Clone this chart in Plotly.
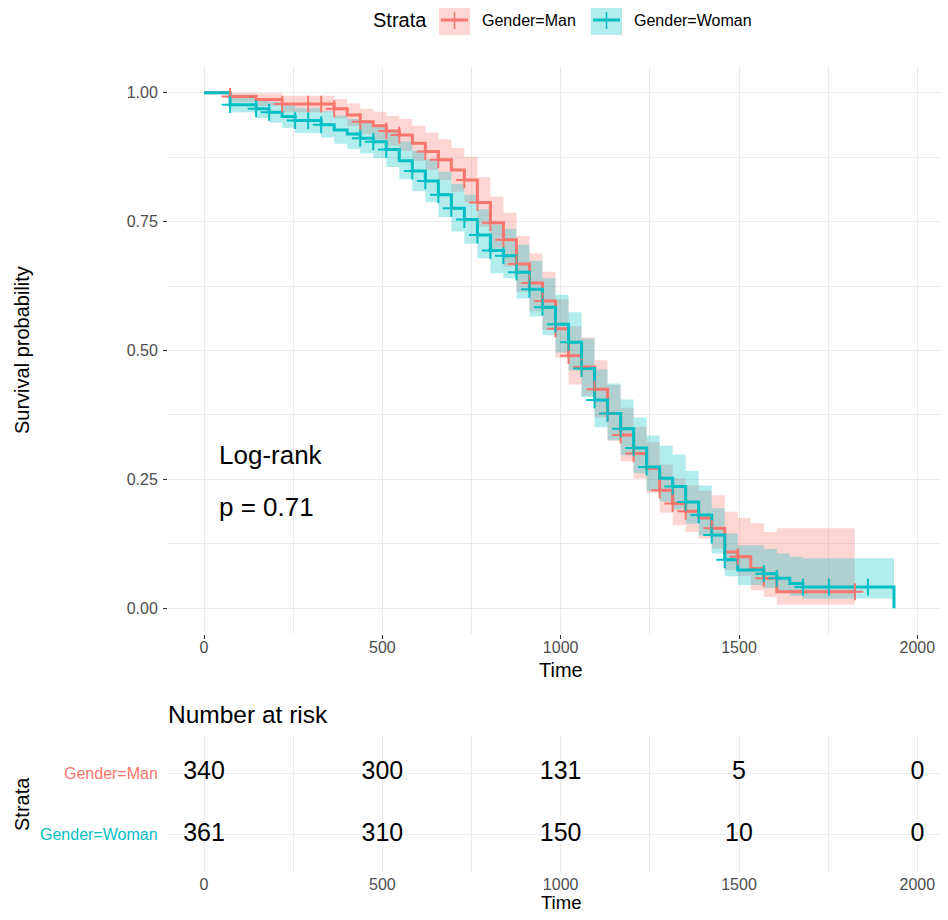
import bisect
import plotly.graph_objects as go

# ---------------- data ----------------
man_times = [0, 73, 146, 219, 365, 401.5, 438, 474.5, 511, 547.5, 584, 620.5, 657, 693.5,
             730, 766.5, 803, 839.5, 876, 912.5, 949, 985.5, 1022, 1058.5, 1095, 1131.5,
             1168, 1204.5, 1241, 1277.5, 1314, 1350.5, 1387, 1423.5, 1460, 1496.5, 1533,
             1569.5, 1606, 1825]
man_surv = [1, 0.993, 0.987, 0.978, 0.969, 0.957, 0.944, 0.936, 0.926, 0.918, 0.902, 0.886,
            0.870, 0.850, 0.831, 0.787, 0.748, 0.715, 0.668, 0.631, 0.596, 0.542, 0.490,
            0.468, 0.425, 0.378, 0.336, 0.300, 0.271, 0.229, 0.203, 0.188, 0.175, 0.155,
            0.109, 0.100, 0.077, 0.058, 0.032, 0.032]
man_lower = [1, 0.982, 0.975, 0.962, 0.950, 0.935, 0.920, 0.909, 0.897, 0.887, 0.868, 0.850,
             0.831, 0.808, 0.787, 0.740, 0.698, 0.663, 0.614, 0.576, 0.540, 0.486, 0.434,
             0.412, 0.370, 0.325, 0.285, 0.251, 0.224, 0.185, 0.161, 0.148, 0.135, 0.116,
             0.074, 0.063, 0.035, 0.022, 0.007, 0.007]
man_upper = [1, 1.0, 0.999, 0.994, 0.988, 0.979, 0.969, 0.963, 0.955, 0.949, 0.936, 0.923,
             0.910, 0.893, 0.876, 0.836, 0.799, 0.767, 0.722, 0.688, 0.653, 0.599, 0.547,
             0.525, 0.481, 0.433, 0.389, 0.352, 0.322, 0.279, 0.252, 0.238, 0.228, 0.219,
             0.187, 0.175, 0.165, 0.148, 0.155, 0.155]
man_censor = [73, 219, 292, 328.5, 365, 438, 511, 547.5, 620.5, 657, 730, 766.5, 803, 839.5,
              876, 912.5, 949, 985.5, 1022, 1058.5, 1095, 1131.5, 1168, 1204.5, 1277.5, 1314,
              1350.5, 1423.5, 1496.5, 1569.5, 1825]

woman_times = [0, 73, 146, 182.5, 219, 255.5, 328.5, 365, 401.5, 438, 474.5, 511, 547.5, 584,
               620.5, 657, 693.5, 730, 766.5, 803, 839.5, 876, 912.5, 949, 985.5, 1022,
               1058.5, 1095, 1131.5, 1168, 1204.5, 1241, 1277.5, 1314, 1350.5, 1387, 1423.5,
               1460, 1496.5, 1569.5, 1606, 1642.5, 1679, 1934.5]
woman_surv = [1, 0.977, 0.969, 0.962, 0.954, 0.946, 0.938, 0.928, 0.920, 0.912, 0.905, 0.890,
              0.868, 0.848, 0.829, 0.802, 0.776, 0.754, 0.724, 0.694, 0.684, 0.652, 0.619,
              0.584, 0.551, 0.516, 0.465, 0.404, 0.378, 0.348, 0.311, 0.274, 0.252, 0.236,
              0.206, 0.181, 0.142, 0.094, 0.074, 0.067, 0.058, 0.048, 0.041, 0.0]
woman_lower = [1, 0.962, 0.951, 0.942, 0.932, 0.922, 0.913, 0.901, 0.891, 0.882, 0.873, 0.856,
               0.832, 0.809, 0.788, 0.759, 0.731, 0.707, 0.679, 0.650, 0.640, 0.601, 0.566,
               0.530, 0.496, 0.461, 0.410, 0.351, 0.326, 0.297, 0.262, 0.228, 0.207, 0.192,
               0.164, 0.141, 0.106, 0.062, 0.045, 0.039, 0.032, 0.024, 0.019, 0.019]
woman_upper = [1, 0.992, 0.987, 0.982, 0.976, 0.970, 0.964, 0.956, 0.949, 0.943, 0.937, 0.925,
               0.906, 0.888, 0.871, 0.847, 0.823, 0.802, 0.774, 0.745, 0.736, 0.705, 0.674,
               0.640, 0.608, 0.574, 0.523, 0.463, 0.436, 0.405, 0.370, 0.335, 0.315, 0.298,
               0.266, 0.238, 0.194, 0.145, 0.122, 0.115, 0.106, 0.100, 0.097, 0.097]
woman_censor = [73, 146, 182.5, 255.5, 292, 328.5, 438, 474.5, 511, 584, 620.5, 657, 693.5,
                730, 766.5, 803, 839.5, 876, 912.5, 949, 985.5, 1022, 1058.5, 1095, 1131.5,
                1168, 1204.5, 1241, 1314, 1350.5, 1387, 1423.5, 1460, 1569.5, 1606, 1679,
                1752, 1861.5]

risk_times = [0, 500, 1000, 1500, 2000]
risk_man = [340, 300, 131, 5, 0]
risk_woman = [361, 310, 150, 10, 0]

strata = ["Gender=Man", "Gender=Woman"]
x_ticks = [0, 500, 1000, 1500, 2000]
y_ticks = [0, 0.25, 0.5, 0.75, 1.0]
pvalue_text = "p = 0.71"

# ---------------- styling ----------------
RED = "#F8766D"
TEAL = "#00BFC4"
RED_FILL = "rgba(248,118,109,0.3)"
TEAL_FILL = "rgba(0,191,196,0.3)"
GRID = "#EBEBEB"
FONT = "Liberation Sans, Arial, Helvetica, sans-serif"
OFF = 8            # page body margin
W, H = 940, 904


def px(x):
    return (x - OFF) / W


def py(y):
    return 1 - (y - OFF) / H


def surv_at(times, surv, t):
    i = bisect.bisect_right(times, t) - 1
    return surv[max(i, 0)]


fig = go.Figure()

series = [
    (strata[0], man_times, man_surv, man_lower, man_upper, man_censor, RED, RED_FILL),
    (strata[1], woman_times, woman_surv, woman_lower, woman_upper, woman_censor, TEAL, TEAL_FILL),
]

# confidence bands
for name, t, s, lo, up, cen, col, fcol in series:
    fig.add_trace(go.Scatter(x=t, y=lo, mode="lines", line=dict(width=0, shape="hv"),
                             showlegend=False, hoverinfo="skip", xaxis="x", yaxis="y"))
    fig.add_trace(go.Scatter(x=t, y=up, mode="lines", line=dict(width=0, shape="hv"),
                             fill="tonexty", fillcolor=fcol, showlegend=False,
                             hoverinfo="skip", xaxis="x", yaxis="y"))

# survival curves
for name, t, s, lo, up, cen, col, fcol in series:
    fig.add_trace(go.Scatter(x=t, y=s, mode="lines", name=name,
                             line=dict(color=col, width=3, shape="hv"),
                             showlegend=False, xaxis="x", yaxis="y"))

# censor marks
for name, t, s, lo, up, cen, col, fcol in series:
    fig.add_trace(go.Scatter(x=cen, y=[surv_at(t, s, c) for c in cen], mode="markers",
                             marker=dict(symbol="cross-thin", size=12, color=col,
                                         line=dict(width=2, color=col)),
                             showlegend=False, hoverinfo="skip", xaxis="x", yaxis="y"))

# risk table numbers
for yv, vals in [(2, risk_man), (1, risk_woman)]:
    fig.add_trace(go.Scatter(x=risk_times, y=[yv] * len(risk_times), mode="text",
                             text=[str(v) for v in vals],
                             textfont=dict(family=FONT, size=25, color="black"),
                             showlegend=False, hoverinfo="skip", xaxis="x2", yaxis="y2"))

x_range = [-101, 2086]
x_dom = [px(168), 1.0]

tick_font = dict(family=FONT, size=16, color="#4D4D4D")
axis_common = dict(showline=False, zeroline=False, gridcolor=GRID, gridwidth=1.2,
                   ticks="outside", ticklen=4, tickwidth=1, tickcolor="#333333",
                   tickfont=tick_font)

minor_x = dict(dtick=250, tick0=0, showgrid=True, gridcolor=GRID, gridwidth=0.6, ticks="")

fig.update_layout(
    width=W, height=H,
    margin=dict(l=0, r=0, t=0, b=0),
    paper_bgcolor="white", plot_bgcolor="white",
    showlegend=False,
    font=dict(family=FONT),
    xaxis=dict(domain=x_dom, range=x_range, anchor="y", tickvals=x_ticks,
               ticklabelstandoff=-5, minor=minor_x, **axis_common),
    yaxis=dict(domain=[py(634), py(67)], range=[-0.05, 1.05], anchor="x",
               tickvals=y_ticks, ticktext=["%.2f" % v for v in y_ticks],
               ticklabelstandoff=2,
               minor=dict(dtick=0.125, tick0=0, showgrid=True, gridcolor=GRID, gridwidth=0.6,
                          ticks=""),
               **axis_common),
    xaxis2=dict(domain=x_dom, range=x_range, anchor="y2", tickvals=x_ticks,
                ticks="", ticklabelstandoff=1, minor=minor_x, showline=False,
                zeroline=False, gridcolor=GRID, gridwidth=1.2, tickfont=tick_font),
    yaxis2=dict(domain=[py(872), py(736)], range=[0.4, 2.6], anchor="x2",
                tickvals=[1, 2], showticklabels=False, ticks="",
                showline=False, zeroline=False, gridcolor=GRID, gridwidth=1.2),
)


def note(text, x, y, size, color="black", xanchor="center", angle=0, xref="paper", yref="paper"):
    xv = px(x) if xref == "paper" else x
    yv = py(y) if yref == "paper" else y
    return dict(text=text, x=xv, y=yv, xref=xref, yref=yref, xanchor=xanchor,
                yanchor="middle", textangle=angle, showarrow=False, borderpad=0,
                font=dict(family=FONT, size=size, color=color))


ann = [
    note("Survival probability", 22, 350, 20, angle=-90),
    note("Time", 561, 670, 20),
    note("Time", 561, 902, 18.5),
    note("Number at risk", 167, 714, 24.5, xanchor="left"),
    note("Strata", 22, 804, 20, angle=-90),
    note(strata[0], 159, 2, 16, color=RED, xanchor="right", yref="y2"),
    note(strata[1], 159, 1, 16, color=TEAL, xanchor="right", yref="y2"),
    note("Log-rank", 39, 0.297, 26, xanchor="left", xref="x", yref="y"),
    note(pvalue_text, 39, 0.196, 26, xanchor="left", xref="x", yref="y"),
    # manual legend
    note("Strata", 428, 20, 20, xanchor="right"),
    note(strata[0], 481, 20, 16, xanchor="left"),
    note(strata[1], 633, 20, 16, xanchor="left"),
]

shapes = []
for (x0, x1), col, fcol in [((439, 470), RED, RED_FILL), ((591, 622), TEAL, TEAL_FILL)]:
    shapes.append(dict(type="rect", xref="paper", yref="paper", x0=px(x0), x1=px(x1),
                       y0=py(35), y1=py(6), fillcolor=fcol, line=dict(width=0)))
    shapes.append(dict(type="line", xref="paper", yref="paper", x0=px(x0 + 2), x1=px(x1 - 2),
                       y0=py(20), y1=py(20), line=dict(color=col, width=3)))
    xc = (x0 + x1) / 2
    shapes.append(dict(type="line", xref="paper", yref="paper", x0=px(xc), x1=px(xc),
                       y0=py(12), y1=py(29), line=dict(color=col, width=1.5)))

fig.update_layout(annotations=ann, shapes=shapes)

fig.write_html("out.html")
